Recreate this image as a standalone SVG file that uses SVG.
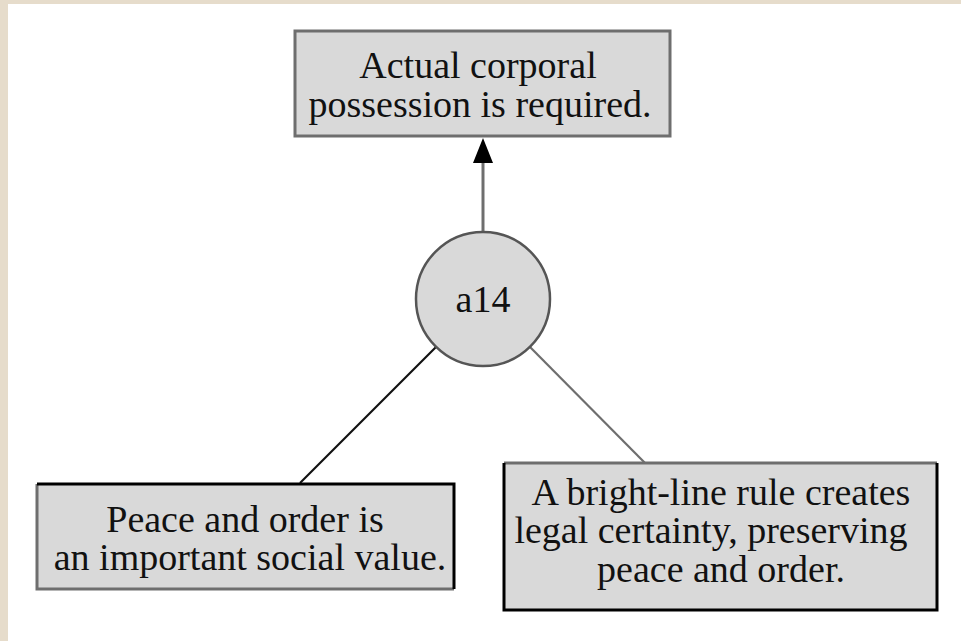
<svg xmlns="http://www.w3.org/2000/svg" width="961" height="641" viewBox="0 0 961 641">
  <style>
    .box { fill: #d9d9d9; }
    .t { font-family: "Liberation Serif", "Times New Roman", serif; font-size: 38px; fill: #111; text-anchor: middle; }
    .dark { stroke: #000; stroke-width: 3; fill: none; }
    .grey { stroke: #6e6e6e; stroke-width: 3; fill: none; }
  </style>
  <rect x="0" y="0" width="961" height="641" fill="#ffffff"/>
  <rect x="0" y="0" width="8" height="641" fill="#e6dccb"/>
  <rect x="0" y="0" width="961" height="4" fill="#e6dccb"/>

  <g id="connectors">
    <line x1="483" y1="233" x2="483" y2="162" stroke="#6e6e6e" stroke-width="3"/>
    <path d="M473,163 L483,138 L493,163 Z" fill="#000"/>
    <line x1="436" y1="347" x2="300" y2="483" stroke="#111" stroke-width="2.2"/>
    <line x1="530" y1="347" x2="645" y2="463" stroke="#6e6e6e" stroke-width="2.2"/>
  </g>

  <g id="node-top">
    <rect class="box" x="295" y="31" width="375" height="105"/>
    <rect class="grey" x="295" y="31" width="375" height="105"/>
    <text class="t" x="478" y="78">Actual corporal</text>
    <text class="t" x="480" y="117">possession is required.</text>
  </g>

  <g id="node-a14">
    <circle cx="483" cy="299" r="67" fill="#d9d9d9" stroke="#555" stroke-width="2.5"/>
    <text class="t" x="483" y="312">a14</text>
  </g>

  <g id="node-left">
    <rect class="box" x="37" y="484" width="417" height="105"/>
    <path class="grey" d="M37,484 V589 H454"/>
    <path class="dark" d="M37,484 H454 V589"/>
    <text class="t" x="245" y="532">Peace and order is</text>
    <text class="t" x="250" y="570">an important social value.</text>
  </g>

  <g id="node-right">
    <rect class="box" x="504" y="463" width="433" height="147"/>
    <path class="grey" d="M504,463 H937"/>
    <path class="dark" d="M504,463 V610 H937 V463"/>
    <text class="t" x="721" y="505">A bright-line rule creates</text>
    <text class="t" x="711" y="543">legal certainty, preserving</text>
    <text class="t" x="721" y="582">peace and order.</text>
  </g>
</svg>
